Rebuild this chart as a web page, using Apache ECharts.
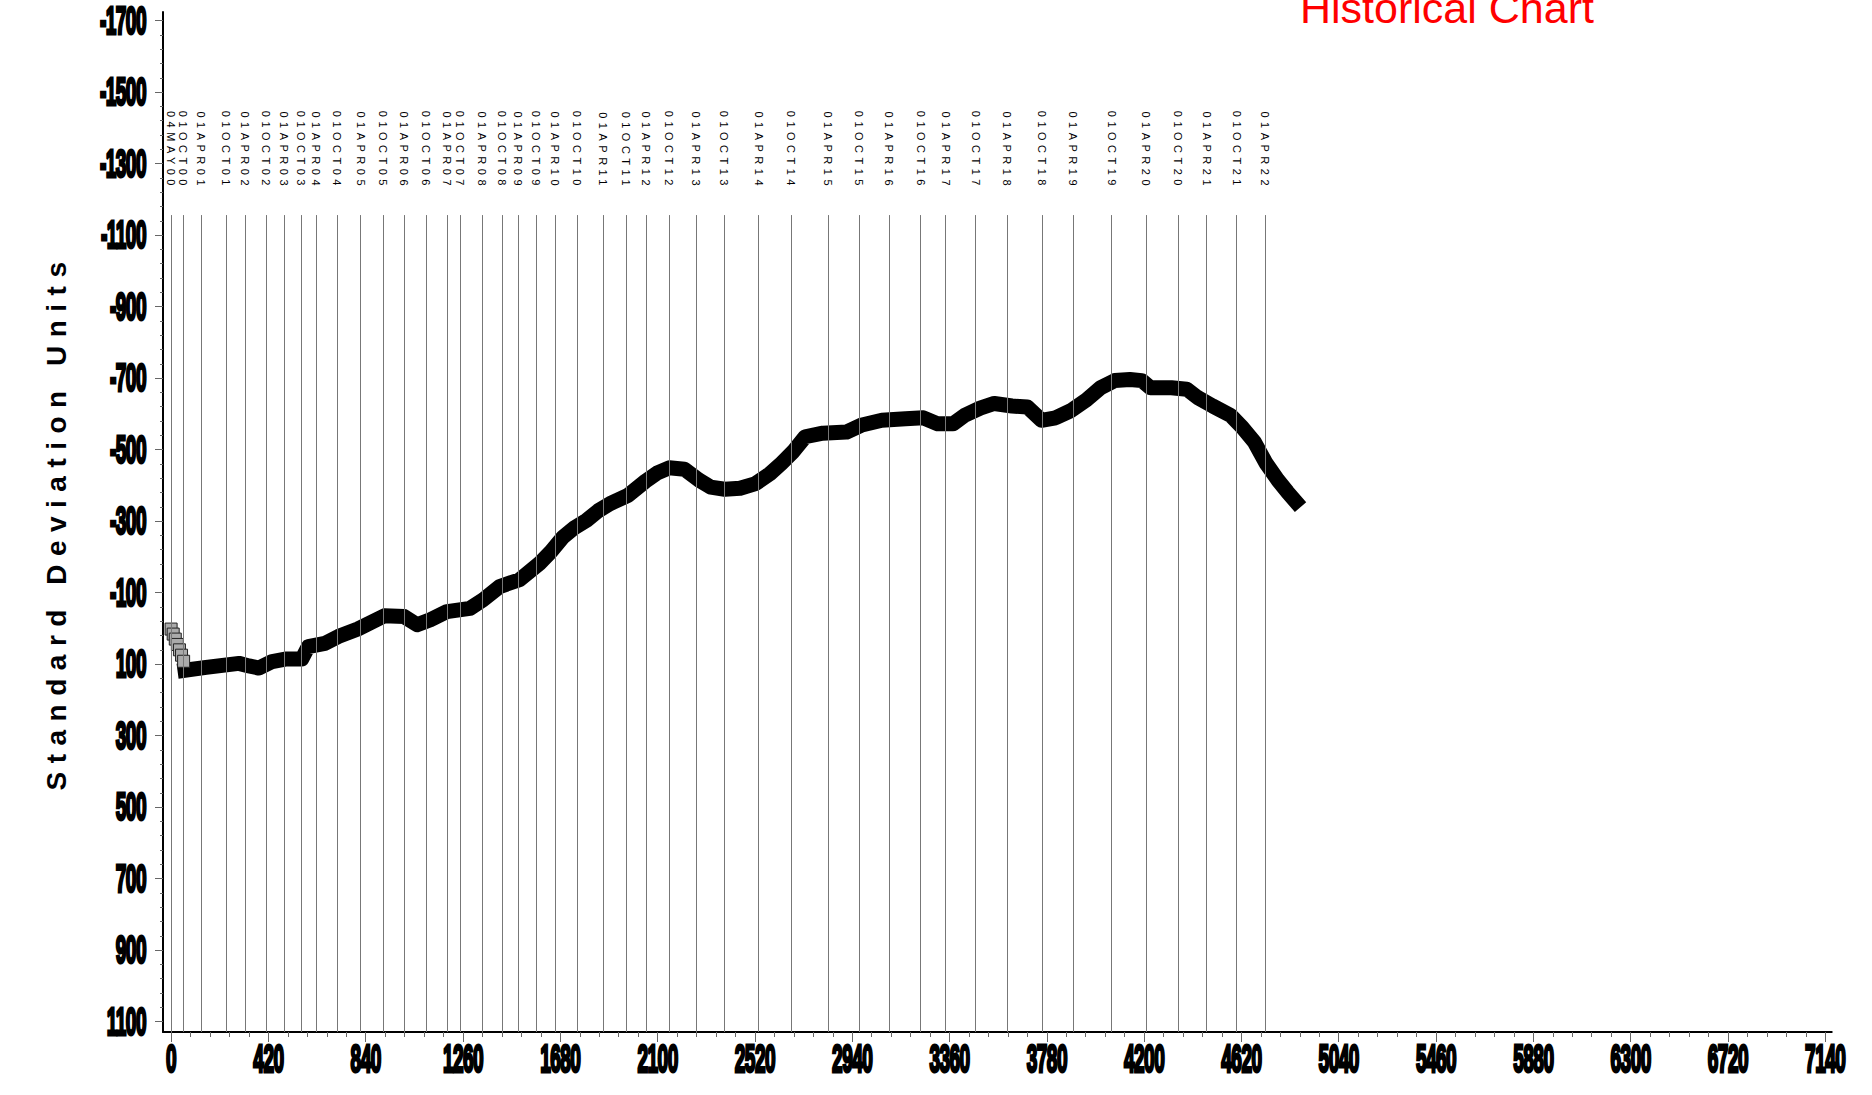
<!DOCTYPE html>
<html>
<head>
<meta charset="utf-8">
<title>Historical Chart</title>
<script src="https://cdn.jsdelivr.net/npm/echarts@6/dist/echarts.min.js"></script>
<style>
html, body { margin: 0; padding: 0; background: #fff; }
#chart { width: 1872px; height: 1095px; }
/* svg text tweaks: tight tick labels, spaced date labels and axis name */
#chart text[fill="#000001"] { letter-spacing: -1px; }
#chart text[fill="#000002"] { letter-spacing: 4.5px; }
#chart text[fill="#000003"] { letter-spacing: 8.5px; }
</style>
</head>
<body>
<div id="chart"></div>
<script>
// axis ticks
const xTicks = [0, 420, 840, 1260, 1680, 2100, 2520, 2940, 3360, 3780, 4200, 4620, 5040, 5460, 5880, 6300, 6720, 7140]
const yTicks = [-1700, -1500, -1300, -1100, -900, -700, -500, -300, -100, 100, 300, 500, 700, 900, 1100]

// reference dates (day index)
const dateNames = ['04MAY00', '01OCT00', '01APR01', '01OCT01', '01APR02', '01OCT02', '01APR03', '01OCT03',
  '01APR04', '01OCT04', '01APR05', '01OCT05', '01APR06', '01OCT06', '01APR07', '01OCT07', '01APR08', '01OCT08',
  '01APR09', '01OCT09', '01APR10', '01OCT10', '01APR11', '01OCT11', '01APR12', '01OCT12', '01APR13', '01OCT13',
  '01APR14', '01OCT14', '01APR15', '01OCT15', '01APR16', '01OCT16', '01APR17', '01OCT17', '01APR18', '01OCT18',
  '01APR19', '01OCT19', '01APR20', '01OCT20', '01APR21', '01OCT21', '01APR22']
const dateDays = [0, 53, 130, 237, 320, 410, 487, 561, 625, 715, 818, 916, 1007, 1102, 1191, 1247, 1341, 1428,
  1498, 1576, 1659, 1754, 1864, 1964, 2052, 2149, 2266, 2388, 2536, 2677, 2836, 2969, 3099, 3235, 3343, 3473,
  3608, 3761, 3894, 4060, 4209, 4348, 4470, 4599, 4722]

// first points (hatched markers)
const startDays = [0, 9, 18, 27, 36, 45, 54]
const startValues = [2, 16, 30, 45, 60, 75, 92]

// main series
const days = [60, 151, 293, 336, 379, 436, 493, 564, 592, 664, 721, 806, 920, 1006, 1062, 1119, 1191, 1290, 1347, 1418,
  1504, 1589, 1640, 1691, 1742, 1793, 1844, 1895, 1972, 2048, 2099, 2150, 2216, 2278, 2329, 2390, 2456, 2523, 2584,
  2635, 2686, 2737, 2813, 2915, 2982, 3068, 3170, 3247, 3309, 3375, 3426, 3492, 3553, 3630, 3696, 3757, 3818, 3884,
  3951, 4012, 4073, 4139, 4190, 4227, 4318, 4384, 4430, 4496, 4573, 4624, 4675, 4726, 4777, 4818, 4854]
const values = [117, 109, 98, 105, 111, 93, 86, 86, 51, 42, 23, 2, -35, -33, -10, -24, -47, -56, -80, -117,
  -136, -181, -215, -255, -282, -302, -329, -349, -372, -412, -435, -449, -445, -415, -395, -389, -392, -405, -432,
  -462, -495, -536, -546, -549, -569, -582, -586, -589, -572, -572, -596, -616, -629, -622, -619, -582, -589, -609,
  -639, -673, -693, -696, -693, -673, -673, -669, -646, -622, -596, -562, -522, -462, -415, -382, -355]

const xMin = -35, xMax = 7168
const yMin = -1724, yMax = 1129
const lineTop = -1156

const xMinor = []
for (let v = 0; v <= 7140; v += 84) xMinor.push(v)
const yMinor = []
for (let v = -1700; v <= 1100; v += 40) yMinor.push(v)

const tickLabel = {
  color: '#000001', fontSize: 38, fontWeight: 'bold', fontFamily: 'Liberation Sans',
  textBorderColor: '#000', textBorderWidth: 3, formatter: v => String(v)
}

const chart = echarts.init(document.getElementById('chart'), null, { renderer: 'svg' })

chart.setOption({
  animation: false,
  title: {
    text: 'Historical Chart',
    left: 1300,
    top: -14,
    padding: 0,
    textStyle: { fontSize: 43, fontWeight: 'normal', color: '#ff0000', fontFamily: 'Liberation Sans' }
  },
  grid: { left: 163, right: 23, top: 12, bottom: 63 },
  xAxis: [
    {
      type: 'value', position: 'bottom', min: xMin, max: xMax,
      axisLine: { onZero: false, lineStyle: { color: '#000', width: 2 } },
      axisTick: { customValues: xTicks, length: 10, lineStyle: { color: '#666' } },
      axisLabel: Object.assign({ customValues: xTicks, margin: 8 }, tickLabel),
      splitLine: { show: false }
    },
    {
      type: 'value', position: 'bottom', min: xMin, max: xMax,
      axisLine: { show: false, onZero: false },
      axisTick: { customValues: xMinor, length: 5, lineStyle: { color: '#666' } },
      axisLabel: { show: false },
      splitLine: { show: false }
    },
    {
      type: 'value', position: 'top', offset: -181, min: xMin, max: xMax,
      axisLine: { show: false, onZero: false },
      axisTick: { show: false },
      axisLabel: {
        customValues: dateDays, rotate: 90, margin: 3, color: '#000002', fontSize: 11,
        fontFamily: 'Liberation Sans', formatter: v => dateNames[dateDays.indexOf(v)]
      },
      splitLine: { show: false }
    }
  ],
  yAxis: [
    {
      type: 'value', position: 'left', inverse: true, min: yMin, max: yMax,
      name: 'Standard Deviation Units', nameLocation: 'middle', nameGap: 93, nameRotate: 90,
      nameMoveOverlap: false,
      nameTextStyle: { fontSize: 28, fontWeight: 'bold', color: '#000003', fontFamily: 'Liberation Sans' },
      axisLine: { onZero: false, lineStyle: { color: '#000', width: 2 } },
      axisTick: { customValues: yTicks, length: 8, lineStyle: { color: '#666' } },
      axisLabel: Object.assign({ customValues: yTicks, margin: 17 }, tickLabel),
      splitLine: { show: false }
    },
    {
      type: 'value', position: 'left', inverse: true, min: yMin, max: yMax,
      axisLine: { show: false, onZero: false },
      axisTick: { customValues: yMinor, length: 3, lineStyle: { color: '#666' } },
      axisLabel: { show: false },
      splitLine: { show: false }
    }
  ],
  series: [
    {
      // vertical date lines
      type: 'line',
      data: [],
      z: 1,
      markLine: {
        silent: true,
        symbol: 'none',
        label: { show: false },
        lineStyle: { color: '#777', width: 1, type: 'solid' },
        data: dateDays.map(d => [{ coord: [d, lineTop] }, { coord: [d, yMax] }])
      }
    },
    {
      name: 'history',
      type: 'line',
      data: days.map((d, i) => [d, values[i]]),
      symbol: 'none',
      z: 3,
      lineStyle: { color: '#000', width: 15, cap: 'square', join: 'round' }
    },
    {
      name: 'start',
      type: 'scatter',
      data: startDays.map((d, i) => [d, startValues[i]]),
      symbol: 'rect',
      symbolSize: 12,
      z: 4,
      itemStyle: { color: '#aaa', borderColor: '#222', borderWidth: 1, opacity: 1 }
    }
  ]
})

// squeeze the tick labels sideways (condensed look of the original)
document.querySelectorAll('#chart text[fill="#000001"]').forEach(t => {
  const x = +(t.getAttribute('x') || 0)
  const y = +(t.getAttribute('y') || 0)
  const tf = t.getAttribute('transform') || ''
  t.setAttribute('transform', tf + ` translate(${x} ${y}) scale(0.5 1) translate(${-x} ${-y})`)
})
</script>
</body>
</html>
